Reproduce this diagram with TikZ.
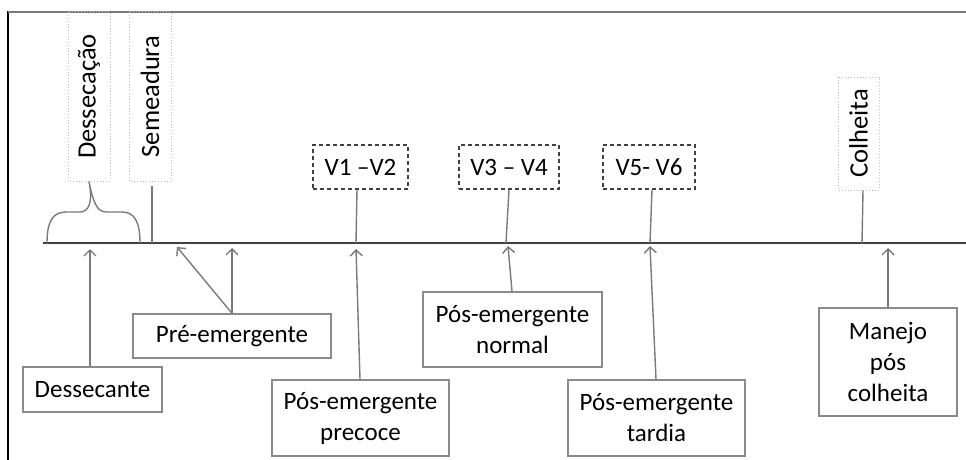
\documentclass[tikz,border=0pt]{standalone}
\usepackage{fontspec}
\setmainfont{Carlito}
\usetikzlibrary{arrows.meta}
\definecolor{boxgray}{HTML}{8A8A8A}
\definecolor{linegray}{HTML}{7A7A7A}
\definecolor{dotgray}{HTML}{BDBDBD}
\definecolor{axisgray}{HTML}{404040}
\begin{document}
\begin{tikzpicture}[x=1pt,y=-1pt,
  every node/.style={font=\fontsize{25}{31}\selectfont, inner sep=0pt, align=center},
  solidbox/.style={draw=boxgray, line width=1.4pt, fill=white},
  dashbox/.style={draw=axisgray, line width=1.4pt, dash pattern=on 4pt off 3pt},
  dotbox/.style={draw=dotgray, line width=1pt, dotted, rotate=90, minimum height=42pt, font=\fontsize{26.5}{31}\selectfont},
  conn/.style={draw=linegray, line width=1.4pt},
  arr/.style={draw=linegray, line width=1.4pt, -{Straight Barb[length=6pt,width=12pt,line width=1.4pt]}}
]
\useasboundingbox (0,0) rectangle (966,460);
% frame
\draw[black, line width=1.2pt] (8,460) -- (8,11);
\draw[linegray, line width=1.6pt] (8,12) -- (966,12);
% timeline
\coordinate (tl0) at (43,243);
\coordinate (tl1) at (966,243);
\draw[axisgray, line width=2pt] (tl0) -- (tl1);
% upper labels
\node[dotbox, minimum width=169pt] (dess) at (89,96.5) {Dessecação};
\node[dotbox, minimum width=169pt] (sem) at (150,96.5) {Semeadura};
\node[dotbox, minimum width=113pt, minimum height=41pt] (col) at (858.5,133.5) {Colheita};
\node[dashbox, minimum width=95pt, minimum height=44pt] (v12) at (360.5,167) {V1 –V2};
\node[dashbox, minimum width=100pt, minimum height=44pt] (v34) at (509,167) {V3 – V4};
\node[dashbox, minimum width=92pt, minimum height=44pt] (v56) at (649,167) {V5- V6};
% brace under Dessecação
\draw[linegray, line width=1.4pt] (47,243) .. controls (47,221) and (53,212) .. (66,212) -- (80,212)
  .. controls (89,212) and (93,202) .. (dess.west)
  .. controls (93,202) and (97,212) .. (106,212) -- (122,212)
  .. controls (134,212) and (140,221) .. (140,243);
% time-point connectors
\coordinate (tsem) at (152,243);
\coordinate (t12) at (356,243);
\coordinate (t34) at (506,243);
\coordinate (t56) at (650,243);
\coordinate (tcol) at (862,243);
\draw[conn] ([xshift=2pt]sem.west) ++(0,4) -- (tsem);
\draw[conn] ([xshift=-3.5pt]v12.south) -- (t12);
\draw[conn] (v34.south) -- (t34);
\draw[conn] ([xshift=3pt]v56.south) -- (t56);
\draw[conn] ([xshift=4.5pt]col.west) -- (tcol);
% lower boxes
\node[solidbox, minimum width=139pt, minimum height=45pt] (dsc) at (92.5,389.5) {Dessecante};
\node[solidbox, minimum width=198pt, minimum height=44pt] (pre) at (232,336) {Pré-emergente};
\node[solidbox, minimum width=177pt, minimum height=76pt] (prec) at (360.5,418) {Pós-emergente\\precoce};
\node[solidbox, minimum width=179pt, minimum height=75pt] (norm) at (512.5,329.5) {Pós-emergente\\normal};
\node[solidbox, minimum width=177pt, minimum height=76pt] (tard) at (656.5,418) {Pós-emergente\\tardia};
\node[solidbox, minimum width=138pt, minimum height=108pt] (manejo) at (888,362) {Manejo\\pós\\colheita};
% arrow ends
\coordinate (adsc) at (90,249);
\coordinate (apre1) at (232,248);
\coordinate (apre2) at (177,247);
\coordinate (aprec) at (356,249);
\coordinate (anorm) at (508,246);
\coordinate (atard) at (650,246);
\coordinate (aman) at (888,248);
\draw[arr] ([xshift=-2.5pt]dsc.north) -- (adsc);
\draw[arr] (pre.north) -- (apre1);
\draw[arr] (pre.north) -- (apre2);
\draw[arr] ([xshift=-0.5pt]prec.north) -- (aprec);
\draw[arr] ([xshift=-0.5pt]norm.north) -- (anorm);
\draw[arr] ([xshift=-0.5pt]tard.north) -- (atard);
\draw[arr] (manejo.north) -- (aman);
\end{tikzpicture}
\end{document}
